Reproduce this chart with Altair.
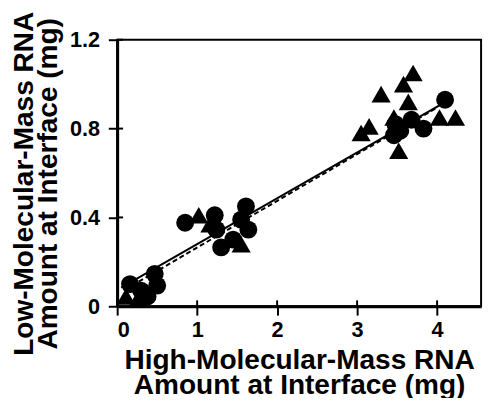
import altair as alt
import pandas as pd

# Circles (one RNA series)
circ_x = [0.16, 0.30, 0.38, 0.47, 0.50,
          0.85, 1.22, 1.24, 1.30, 1.45, 1.55, 1.61, 1.64,
          3.46, 3.48, 3.54, 3.68, 3.83, 4.10]
circ_y = [0.10, 0.07, 0.044, 0.146, 0.093,
          0.376, 0.41, 0.345, 0.265, 0.30, 0.39, 0.45, 0.345,
          0.77, 0.82, 0.79, 0.84, 0.80, 0.93]
# Triangles (other series)
tri_x = [0.11, 0.26,
         1.02, 1.16, 1.55,
         3.05, 3.15, 3.30, 3.46, 3.52, 3.58, 3.64, 3.70, 4.03, 4.23]
tri_y = [0.044, 0.035,
         0.41, 0.37, 0.28,
         0.78, 0.81, 0.955, 0.85, 0.70, 1.00, 0.92, 1.05, 0.85, 0.85]

# Fitted lines (endpoints)
solid_x = [0.05, 4.10]
solid_y = [0.084, 0.919]
dash_x = [0.10, 4.00]
dash_y = [0.075, 0.895]

x_ticks = [0, 1, 2, 3, 4]
y_ticks = [0, 0.4, 0.8, 1.2]

W, H = 370, 271
XDOM = [0, 4.55]
YDOM = [0, 1.2]

pts = pd.DataFrame({
    "x": circ_x + tri_x,
    "y": circ_y + tri_y,
    "g": ["circle"] * len(circ_x) + ["triangle"] * len(tri_x),
})
lines = pd.DataFrame({
    "x": solid_x + dash_x,
    "y": solid_y + dash_y,
    "s": ["solid"] * 2 + ["dash"] * 2,
})

xs = alt.Scale(domain=XDOM, nice=False, zero=False)
ys = alt.Scale(domain=YDOM, nice=False, zero=False)

FONT = "Liberation Sans"

xaxis = alt.Axis(values=x_ticks, format="d", title=["High-Molecular-Mass RNA", "Amount at Interface (mg)"],
                 labelPadding=5, titleLineHeight=26, titleBaseline="alphabetic", titleY=63)
yaxis = alt.Axis(values=y_ticks, format="~g", title=["Low-Molecular-Mass RNA", "Amount at Interface (mg)"],
                 labelPadding=9, titleLineHeight=24, titleAngle=-90, titleBaseline="alphabetic",
                 titleAlign="center", titleX=-86, titleY=146)

solid = alt.Chart(lines[lines.s == "solid"]).mark_line(color="black", strokeWidth=2).encode(
    x=alt.X("x:Q", scale=xs, axis=xaxis), y=alt.Y("y:Q", scale=ys, axis=yaxis))
dashed = alt.Chart(lines[lines.s == "dash"]).mark_line(color="black", strokeWidth=2, strokeDash=[5, 3]).encode(
    x=alt.X("x:Q", scale=xs, axis=xaxis), y=alt.Y("y:Q", scale=ys, axis=yaxis))

points = alt.Chart(pts).mark_point(filled=True, opacity=1, color="black").encode(
    x=alt.X("x:Q", scale=xs, axis=xaxis),
    y=alt.Y("y:Q", scale=ys, axis=yaxis),
    shape=alt.Shape("g:N", scale=alt.Scale(domain=["circle", "triangle"], range=["circle", "triangle-up"]), legend=None),
    size=alt.Size("g:N", scale=alt.Scale(domain=["circle", "triangle"], range=[330, 380]), legend=None),
)

# inward parts of the crossing ticks
xt = pd.DataFrame({"x": x_ticks})
yt = pd.DataFrame({"y": y_ticks})
xin = alt.Chart(xt).mark_rule(color="black", strokeWidth=2).encode(
    x=alt.X("x:Q", scale=xs, axis=xaxis), y=alt.value(H), y2=alt.value(H - 6))
yin = alt.Chart(yt).mark_rule(color="black", strokeWidth=2).encode(
    y=alt.Y("y:Q", scale=ys, axis=yaxis), x=alt.value(0), x2=alt.value(6))

chart = alt.layer(solid, dashed, xin, yin, points).properties(
    width=W, height=H,
    background="white",
    autosize=alt.AutoSizeParams(type="none"),
    padding={"left": 111, "top": 29, "right": 5, "bottom": 90},
).configure_view(stroke="black", strokeWidth=2).configure_axis(
    grid=False, tickSize=9, tickWidth=2, tickColor="black",
    domainColor="black", domainWidth=3,
    labelFont=FONT, labelFontSize=22, labelFontWeight="bold", labelColor="black",
    titleFont=FONT, titleFontSize=28.5, titleFontWeight="bold", titleColor="black",
)

chart.save("out.html", embed_options={"renderer": "svg", "actions": False})
